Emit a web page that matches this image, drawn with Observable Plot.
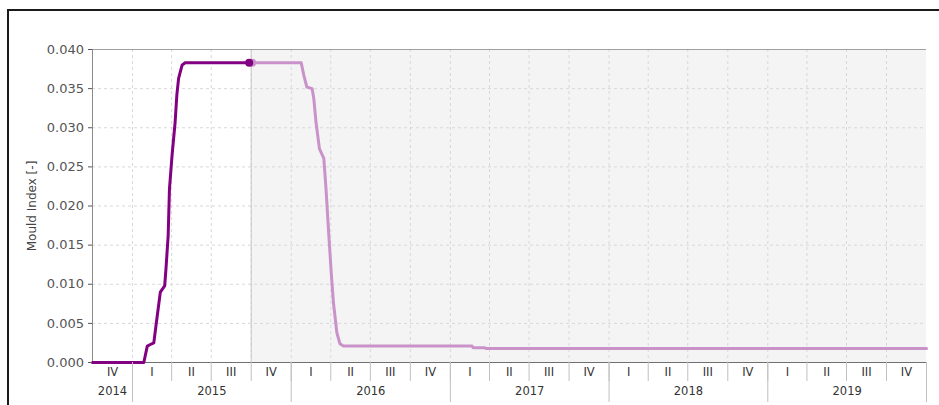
<!DOCTYPE html>
<html>
<head>
<meta charset="utf-8">
<script src="https://cdn.jsdelivr.net/npm/d3@7"></script>
<script src="https://cdn.jsdelivr.net/npm/@observablehq/plot@0.6"></script>
<style>
  html, body { margin: 0; padding: 0; background: #fff; overflow: hidden; }
  #wrap { position: relative; width: 939px; height: 405px; }
  #border { position: absolute; left: 7px; top: 9px; width: 1000px; height: 500px;
            border-top: 2px solid #1a1a1a; border-left: 2px solid #1a1a1a; pointer-events: none; }
  #chart svg { display: block; }
</style>
</head>
<body>
<div id="wrap"><div id="chart"></div><div id="border"></div></div>
<script>
// Measured history (dark purple)
const pastDates = ["2014-10-01","2015-01-27","2015-02-04","2015-02-11","2015-02-19","2015-02-21","2015-02-27","2015-03-06","2015-03-16","2015-03-19","2015-03-24","2015-03-27","2015-04-02","2015-04-09","2015-04-13","2015-04-17","2015-04-25","2015-05-02","2015-10-01"];
const pastValues = [0,0,0.0021,0.0023,0.0025,0.0034,0.0060,0.0090,0.0098,0.0120,0.0162,0.0222,0.0265,0.0307,0.0342,0.0363,0.0380,0.0383,0.0383];
// Forecast (light purple)
const futureDates = ["2015-10-01","2016-01-24","2016-01-30","2016-02-06","2016-02-18","2016-02-22","2016-02-27","2016-03-06","2016-03-16","2016-03-21","2016-03-27","2016-04-02","2016-04-07","2016-04-15","2016-04-22","2016-04-30","2017-02-20","2017-02-22","2017-03-21","2017-03-23","2020-01-01"];
const futureValues = [0.0383,0.0383,0.0367,0.0352,0.0350,0.0337,0.0307,0.0273,0.0261,0.0222,0.0167,0.0115,0.0077,0.0038,0.0024,0.0021,0.0021,0.0019,0.0019,0.0018,0.0018];
// Axis
const yLabel = "Mould Index [-]";
const yTicks = [0,0.005,0.010,0.015,0.020,0.025,0.030,0.035,0.040];
const quarterStarts = ["2014-10-01","2015-01-01","2015-04-01","2015-07-01","2015-10-01","2016-01-01","2016-04-01","2016-07-01","2016-10-01","2017-01-01","2017-04-01","2017-07-01","2017-10-01","2018-01-01","2018-04-01","2018-07-01","2018-10-01","2019-01-01","2019-04-01","2019-07-01","2019-10-01","2020-01-01"];
const quarterLabels = ["IV","I","II","III","IV","I","II","III","IV","I","II","III","IV","I","II","III","IV","I","II","III","IV"];
const yearLabels = ["2014","2015","2016","2017","2018","2019"];
const yearSpans = [["2014-10-01","2015-01-01"],["2015-01-01","2016-01-01"],["2016-01-01","2017-01-01"],["2017-01-01","2018-01-01"],["2018-01-01","2019-01-01"],["2019-01-01","2020-01-01"]];
const yearBoundaries = ["2015-01-01","2016-01-01","2017-01-01","2018-01-01","2019-01-01","2020-01-01"];
const forecastStart = "2015-10-01";

const P = d3.utcParse("%Y-%m-%d");
const past = pastDates.map((d, i) => ({date: P(d), v: pastValues[i]}));
const future = futureDates.map((d, i) => ({date: P(d), v: futureValues[i]}));
const qDates = quarterStarts.map(P);
const quarters = quarterLabels.map((q, i) => ({mid: new Date((+qDates[i] + +qDates[i + 1]) / 2), label: q}));
const years = yearLabels.map((y, i) => ({mid: new Date((+P(yearSpans[i][0]) + +P(yearSpans[i][1])) / 2), label: y}));
const domain = [qDates[0], qDates[qDates.length - 1]];

const dark = "#820082";
const light = "#c992c9";

const chart = Plot.plot({
  width: 939,
  height: 405,
  marginLeft: 92,
  marginRight: 13,
  marginTop: 49,
  marginBottom: 43,
  style: {background: "transparent", fontFamily: "'DejaVu Sans', sans-serif", fontSize: "12px"},
  x: {type: "utc", domain},
  y: {domain: [0, 0.04]},
  marks: [
    Plot.rect([{x1: P(forecastStart), x2: domain[1]}], {x1: "x1", x2: "x2", y1: 0, y2: 0.04, fill: "#f4f4f4"}),
    Plot.gridX({ticks: qDates.slice(1, -1), stroke: "#d8d8d8", strokeOpacity: 1, strokeDasharray: "3,3"}),
    Plot.gridY({ticks: yTicks.slice(1, -1), stroke: "#d8d8d8", strokeOpacity: 1, strokeDasharray: "3,3"}),
    Plot.ruleX([P(forecastStart)], {stroke: "#c8c8c8"}),
    Plot.ruleY([0.04], {stroke: "#a0a0a0"}),
    Plot.ruleY([0], {stroke: "#707070"}),
    Plot.ruleX([domain[0]], {stroke: "#8a8a8a"}),
    Plot.line(future, {x: "date", y: "v", stroke: light, strokeWidth: 3, curve: "linear"}),
    Plot.line(past, {x: "date", y: "v", stroke: dark, strokeWidth: 3, curve: "linear"}),
    Plot.dot([future[0]], {x: "date", y: "v", r: 4, fill: light, stroke: "none", dx: 1}),
    Plot.dot([past[past.length - 1]], {x: "date", y: "v", r: 4, fill: dark, stroke: "none", dx: -2}),
    Plot.axisY({ticks: yTicks, tickFormat: d3.format(".3f"), tickSize: 4, tickPadding: 4.5, color: "#555", fontSize: 13,
      label: null}),
    Plot.text([yLabel], {text: d => d, frameAnchor: "left", rotate: -90, dx: -60, fill: "#444", fontSize: 12, textAnchor: "middle"}),
    Plot.axisX({ticks: qDates.slice(1), tickSize: 19, tickFormat: () => "", stroke: "#c0c0c0"}),
    Plot.axisX({ticks: yearBoundaries.map(P), tickSize: 40, tickFormat: () => "", stroke: "#c0c0c0"}),
    Plot.text(quarters, {x: "mid", text: "label", frameAnchor: "bottom", dy: 13, fill: "#333", fontSize: 11.5}),
    Plot.text(years, {x: "mid", text: "label", frameAnchor: "bottom", dy: 32.5, fill: "#333", fontSize: 11.5})
  ]
});
document.getElementById("chart").appendChild(chart);
</script>
</body>
</html>
